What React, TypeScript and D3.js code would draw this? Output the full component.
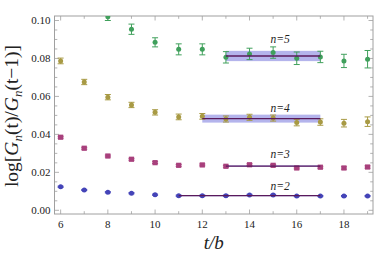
import React from "react";
import * as d3 from "d3";

const tValues = [6, 7, 8, 9, 10, 11, 12, 13, 14, 15, 16, 17, 18, 19];
const n2 = [0.0124, 0.0107, 0.0095, 0.009, 0.0082, 0.0077, 0.0077, 0.0077, 0.0081, 0.0081, 0.0075, 0.0075, 0.0075, 0.0075];
const n2err = [0.0003, 0.0003, 0.0003, 0.0003, 0.0003, 0.0003, 0.0003, 0.0003, 0.0003, 0.0003, 0.0003, 0.0003, 0.0003, 0.0003];
const n3 = [0.0385, 0.0327, 0.0286, 0.0269, 0.0251, 0.0237, 0.0239, 0.0232, 0.024, 0.0237, 0.0223, 0.0227, 0.0223, 0.0228];
const n3err = [0.0005, 0.0005, 0.0005, 0.0005, 0.0005, 0.0005, 0.0005, 0.0005, 0.0005, 0.0005, 0.0005, 0.0005, 0.0006, 0.0006];
const n4 = [0.0787, 0.0676, 0.0596, 0.0555, 0.0516, 0.0492, 0.0495, 0.0481, 0.049, 0.0486, 0.0462, 0.0465, 0.0459, 0.0467];
const n4err = [0.0015, 0.0014, 0.0014, 0.0014, 0.0014, 0.0015, 0.0015, 0.0016, 0.0016, 0.0016, 0.0017, 0.0017, 0.002, 0.0025];
const n5t = [8, 9, 10, 11, 12, 13, 14, 15, 16, 17, 18, 19];
const n5 = [0.102, 0.0954, 0.0885, 0.0848, 0.0848, 0.0806, 0.0824, 0.0831, 0.0801, 0.0808, 0.0787, 0.0796];
const n5err = [0.002, 0.0027, 0.0024, 0.0029, 0.0029, 0.003, 0.003, 0.003, 0.0033, 0.003, 0.0035, 0.0046];

const fitLabels = ["n=2", "n=3", "n=4", "n=5"];
const fitValues = [0.0077, 0.0233, 0.0483, 0.0813];
const fitErrors = [0.0003, 0.0004, 0.0021, 0.0027];
const fitStart = [11, 13, 12, 13];
const fitEnd = [17, 17, 17, 17];
const labelOffset = [0.003, 0.0042, 0.0037, 0.0067];

const xTicksMajor = [6, 8, 10, 12, 14, 16, 18];
const yTicksMajor = [0, 0.02, 0.04, 0.06, 0.08, 0.1];

const colors = {
  n2: "#4444b8",
  n3: "#a8407c",
  n4: "#a89a44",
  n5: "#40a05c",
  fit: "#5a1a5c",
  band: "#9b9be6",
  frame: "#a0a0a0",
};

export default function App() {
  const W = 374, H = 260;
  const left = 54.5, right = 373, top = 16, bottom = 214;
  const x = d3.scaleLinear().domain([5.74, 19.23]).range([left, right]);
  const y = d3.scaleLinear().domain([0, 0.1]).range([210.3, 20.5]);
  const yMax = y.invert(top);

  const xMinor = d3.range(6, 20, 1);
  const yMinor = d3.range(0, yMax, 0.005).filter((v) => v >= 0);

  const series = [
    { t: tValues, v: n2, e: n2err, c: colors.n2, shape: "circle" },
    { t: tValues, v: n3, e: n3err, c: colors.n3, shape: "square" },
    { t: tValues, v: n4, e: n4err, c: colors.n4, shape: "circle" },
    { t: n5t, v: n5, e: n5err, c: colors.n5, shape: "circle" },
  ];

  const serif = "'Liberation Serif', 'DejaVu Serif', serif";

  return (
    <svg width={W} height={H} style={{ position: "absolute", left: 0, top: 0 }}>
      <rect x={0} y={0} width={W} height={H} fill="#fff" />
      <defs>
        <clipPath id="plotclip">
          <rect x={left} y={top} width={right - left} height={bottom - top} />
        </clipPath>
      </defs>
      <rect x={left} y={top} width={right - left} height={bottom - top} fill="none" stroke={colors.frame} strokeWidth={1} />
      {xMinor.map((t) => {
        const major = t % 2 === 0;
        const len = major ? 4.5 : 2.8;
        return (
          <g key={"xt" + t} stroke={colors.frame} strokeWidth={0.8}>
            <line x1={x(t)} x2={x(t)} y1={bottom} y2={bottom - len} />
            <line x1={x(t)} x2={x(t)} y1={top} y2={top + len} />
          </g>
        );
      })}
      {yMinor.map((v, i) => {
        const major = i % 4 === 0;
        const len = major ? 4.5 : 2.8;
        return (
          <g key={"yt" + i} stroke={colors.frame} strokeWidth={0.8}>
            <line x1={left} x2={left + len} y1={y(v)} y2={y(v)} />
            <line x1={right} x2={right - len} y1={y(v)} y2={y(v)} />
          </g>
        );
      })}
      {xTicksMajor.map((t) => (
        <text key={"xl" + t} x={x(t)} y={227.5} textAnchor="middle" fontFamily={serif} fontSize={11} fill="#222">
          {t}
        </text>
      ))}
      {yTicksMajor.map((v) => (
        <text key={"yl" + v} x={50.5} y={y(v) + 3.7} textAnchor="end" fontFamily={serif} fontSize={11} fill="#222">
          {v.toFixed(2)}
        </text>
      ))}
      <g clipPath="url(#plotclip)">
        {fitValues.map((fv, i) => (
          <rect
            key={"band" + i}
            x={x(fitStart[i])}
            width={x(fitEnd[i]) - x(fitStart[i])}
            y={y(fv + fitErrors[i])}
            height={y(fv - fitErrors[i]) - y(fv + fitErrors[i])}
            fill={colors.band}
            opacity={0.75}
          />
        ))}
        {series.map((s, si) => (
          <g key={"s" + si}>
            {s.t.map((t, i) => {
              const cx = x(t), cy = y(s.v[i]);
              const y1 = y(s.v[i] + s.e[i]), y2 = y(s.v[i] - s.e[i]);
              return (
                <g key={i}>
                  <g stroke={s.c} strokeWidth={1}>
                    <line x1={cx} x2={cx} y1={y1} y2={y2} />
                    <line x1={cx - 3} x2={cx + 3} y1={y1} y2={y1} />
                    <line x1={cx - 3} x2={cx + 3} y1={y2} y2={y2} />
                  </g>
                  {s.shape === "circle" ? (
                    <circle cx={cx} cy={cy} r={2.5} fill={s.c} />
                  ) : (
                    <rect x={cx - 2.6} y={cy - 2.6} width={5.2} height={5.2} fill={s.c} />
                  )}
                </g>
              );
            })}
          </g>
        ))}
        {fitValues.map((fv, i) => (
          <line
            key={"fl" + i}
            x1={x(fitStart[i])}
            x2={x(fitEnd[i])}
            y1={y(fv)}
            y2={y(fv)}
            stroke={colors.fit}
            strokeWidth={1.3}
          />
        ))}
      </g>
      {fitValues.map((fv, i) => (
        <text
          key={"lab" + i}
          x={x(15.3)}
          y={y(fv + labelOffset[i])}
          textAnchor="middle"
          fontFamily={serif}
          fontStyle="italic"
          fontSize={11.5}
          fill="#222"
        >
          {fitLabels[i]}
        </text>
      ))}
      <text
        transform={`translate(18, 116) rotate(-90)`}
        textAnchor="middle"
        fontFamily={serif}
        fontSize={19.5}
        fill="#222"
      >
        log[<tspan fontStyle="italic">G</tspan>
        <tspan fontStyle="italic" fontSize={13} dy={4}>n</tspan>
        <tspan dy={-4}>(t)/</tspan>
        <tspan fontStyle="italic">G</tspan>
        <tspan fontStyle="italic" fontSize={13} dy={4}>n</tspan>
        <tspan dy={-4}>(t−1)]</tspan>
      </text>
      <text x={(left + right) / 2} y={249} textAnchor="middle" fontFamily={serif} fontStyle="italic" fontSize={19} fill="#222">
        t/b
      </text>
    </svg>
  );
}
